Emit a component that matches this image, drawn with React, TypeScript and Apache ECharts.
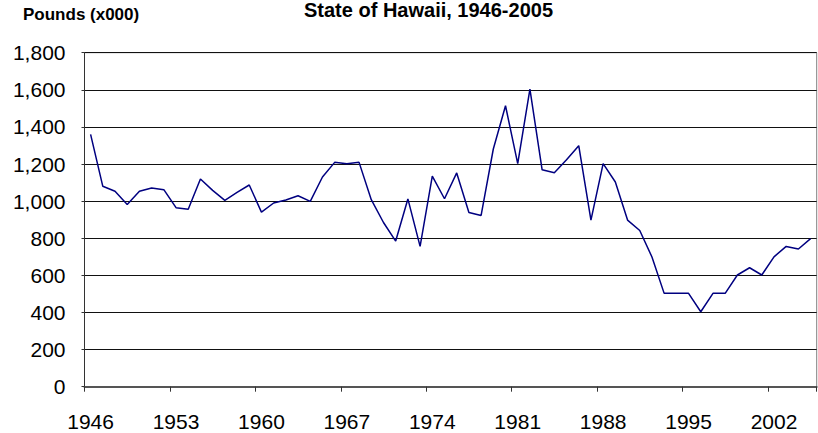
import React, { useEffect, useRef } from "react";
import * as echarts from "echarts";

const years: string[] = [];
for (let y = 1946; y <= 2005; y++) years.push(String(y));

const pounds: number[] = [
  1360, 1080, 1053, 982, 1053, 1071, 1062, 965, 956, 1119,
  1058, 1004, 1047, 1087, 941, 990, 1006, 1029, 999, 1130,
  1209, 1202, 1209, 1008, 885, 785, 1012, 756, 1135, 1013,
  1152, 939, 923, 1281, 1514, 1202, 1604, 1169, 1153, 1223,
  1299, 898, 1202, 1103, 898, 842, 699, 503, 503, 503,
  404, 503, 503, 602, 641, 602, 700, 756, 742, 798,
];

const titleText = "State of Hawaii, 1946-2005";
const unitText = "Pounds (x000)";
const yTicks = { min: 0, max: 1800, interval: 200 };

const FONT = "'Liberation Sans', Arial, sans-serif";

export default function App() {
  const ref = useRef<HTMLDivElement>(null);
  useEffect(() => {
    if (!ref.current) return;
    const chart = echarts.init(ref.current, null, { renderer: "svg" });
    chart.setOption({
      animation: false,
      backgroundColor: "#ffffff",
      graphic: [
        {
          type: "text",
          left: 23,
          top: 6,
          style: { text: unitText, font: `bold 17px ${FONT}`, fill: "#000" },
        },
        {
          type: "text",
          x: 428.5,
          y: 0,
          style: {
            text: titleText,
            font: `bold 20px ${FONT}`,
            fill: "#000",
            align: "center",
            verticalAlign: "top",
          },
        },
      ],
      grid: {
        left: 84.5,
        right: 1.3,
        top: 52.7,
        bottom: 46.3,
        show: true,
        borderColor: "#808080",
        borderWidth: 1,
      },
      xAxis: {
        type: "category",
        data: years,
        boundaryGap: true,
        axisLine: { show: true, lineStyle: { color: "#555", width: 2 } },
        axisTick: {
          show: true,
          interval: 6,
          length: 5,
          inside: false,
          lineStyle: { color: "#333", width: 1 },
        },
        axisLabel: {
          interval: 6,
          margin: 24,
          color: "#000",
          fontFamily: FONT,
          fontSize: 21,
        },
        splitLine: { show: false },
      },
      yAxis: {
        type: "value",
        min: yTicks.min,
        max: yTicks.max,
        interval: yTicks.interval,
        axisLine: { show: true, lineStyle: { color: "#333", width: 1 } },
        axisTick: { show: true, length: 3, lineStyle: { color: "#333" } },
        axisLabel: {
          margin: 19,
          color: "#000",
          fontFamily: FONT,
          fontSize: 21,
          formatter: (v: number) => v.toLocaleString("en-US"),
        },
        splitLine: { show: true, lineStyle: { color: "#111", width: 1 } },
      },
      series: [
        {
          type: "line",
          data: pounds,
          showSymbol: false,
          symbol: "none",
          lineStyle: { color: "#000080", width: 1.5 },
          itemStyle: { color: "#000080" },
        },
      ],
    });
    return () => chart.dispose();
  }, []);
  return (
    <div
      ref={ref}
      style={{ position: "fixed", left: 0, top: 0, width: 818, height: 433 }}
    />
  );
}
